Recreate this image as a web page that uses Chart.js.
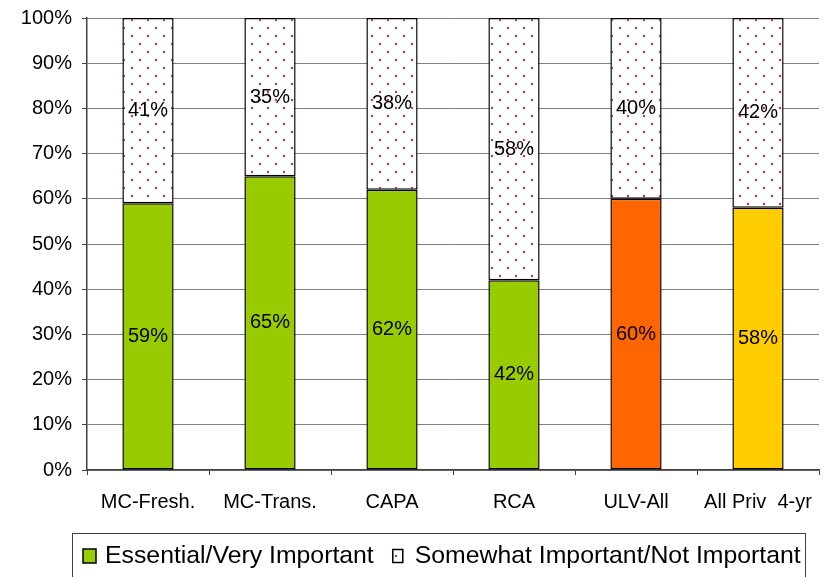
<!DOCTYPE html>
<html>
<head>
<meta charset="utf-8">
<style>
  html, body { margin: 0; padding: 0; background: #ffffff; }
  #wrap { width: 831px; height: 577px; position: relative; }
</style>
<script src="https://cdn.jsdelivr.net/npm/chart.js@4/dist/chart.umd.min.js"></script>
</head>
<body>
<div id="wrap"><canvas id="chart" width="831" height="577"></canvas></div>
<script>
// Survey groups along the x axis
const categories = ['MC-Fresh.', 'MC-Trans.', 'CAPA', 'RCA', 'ULV-All', 'All Priv  4-yr'];
// Share of respondents (percent) for each rating
const essentialVeryImportant = [59, 65, 62, 42, 60, 58];
const somewhatNotImportant = [41, 35, 38, 58, 40, 42];
// Legend texts
const seriesNames = ['Essential/Very Important', 'Somewhat Important/Not Important'];
// Fill per group for the lower segment
const essentialColors = ['#99CC00', '#99CC00', '#99CC00', '#99CC00', '#FF6600', '#FFCC00'];

const FONT = '"Liberation Sans", Arial, sans-serif';

// White tile with small magenta dots in an offset grid
function dotPattern(ctx) {
  const tile = document.createElement('canvas');
  tile.width = 16; tile.height = 16;
  const t = tile.getContext('2d');
  t.fillStyle = '#ffffff';
  t.fillRect(0, 0, 16, 16);
  t.fillStyle = '#a8377a';
  [[4, 4], [12, 12]].forEach(([x, y]) => {
    t.beginPath();
    t.arc(x, y, 1.2, 0, Math.PI * 2);
    t.fill();
  });
  return ctx.createPattern(tile, 'repeat');
}

const canvas = document.getElementById('chart');
const ctx = canvas.getContext('2d');
const pattern = dotPattern(ctx);

// Percent labels centred inside each bar segment
const segmentLabels = {
  id: 'segmentLabels',
  afterDatasetsDraw(chart) {
    const c = chart.ctx;
    c.save();
    c.font = '20px ' + FONT;
    c.fillStyle = '#000000';
    c.textAlign = 'center';
    c.textBaseline = 'middle';
    chart.data.datasets.forEach((ds, i) => {
      chart.getDatasetMeta(i).data.forEach((bar, j) => {
        const y = (bar.y + bar.base) / 2;
        c.fillText(ds.data[j] + '%', bar.x, y);
      });
    });
    c.restore();
  }
};

// Boxed legend under the axis
const boxedLegend = {
  id: 'boxedLegend',
  afterDraw(chart) {
    const c = chart.ctx;
    c.save();
    c.strokeStyle = '#404040';
    c.lineWidth = 1;
    c.strokeRect(72.5, 533.5, 733, 60);
    c.font = '24.8px ' + FONT;
    c.textBaseline = 'middle';
    c.fillStyle = '#000000';
    const swatches = [
      { fill: '#99CC00', w: 13, h: 14 },
      { fill: pattern, w: 10, h: 13 }
    ];
    let x = 83;
    const cy = 556;
    seriesNames.forEach((name, i) => {
      const s = swatches[i];
      c.fillStyle = s.fill;
      c.fillRect(x, cy - s.h / 2, s.w, s.h);
      c.strokeStyle = '#000000';
      c.lineWidth = 1.5;
      c.strokeRect(x, cy - s.h / 2, s.w, s.h);
      c.fillStyle = '#000000';
      c.fillText(name, x + 22, cy);
      x += 22 + c.measureText(name).width + 19;
    });
    c.restore();
  }
};

new Chart(ctx, {
  type: 'bar',
  data: {
    labels: categories,
    datasets: [
      {
        label: seriesNames[0],
        data: essentialVeryImportant,
        backgroundColor: essentialColors,
        borderColor: '#000000',
        borderWidth: 1.5,
        borderSkipped: false
      },
      {
        label: seriesNames[1],
        data: somewhatNotImportant,
        backgroundColor: pattern,
        borderColor: '#000000',
        borderWidth: 1.5,
        borderSkipped: false
      }
    ]
  },
  options: {
    responsive: false,
    animation: false,
    events: [],
    layout: { padding: { left: 0, right: 12, top: 18, bottom: 57 } },
    datasets: { bar: { categoryPercentage: 1, barPercentage: 0.42 } },
    plugins: {
      legend: { display: false },
      tooltip: { enabled: false }
    },
    scales: {
      x: {
        stacked: true,
        afterFit(scale) { scale.height = 50; },
        grid: {
          drawOnChartArea: false,
          tickLength: 5,
          tickColor: '#404040',
          lineWidth: 1
        },
        border: { color: '#404040', width: 1.5 },
        ticks: {
          color: '#000000',
          font: { family: FONT, size: 20 },
          padding: 15,
          maxRotation: 0,
          autoSkip: false
        }
      },
      y: {
        stacked: true,
        min: 0,
        max: 100,
        afterFit(scale) { scale.width = 87; scale.paddingTop = 0; scale.paddingBottom = 0; },
        grid: {
          color: '#808080',
          lineWidth: 1,
          tickLength: 5,
          tickColor: '#404040'
        },
        border: { color: '#404040', width: 1.5 },
        ticks: {
          stepSize: 10,
          color: '#000000',
          font: { family: FONT, size: 20, lineHeight: 1 },
          padding: 10,
          callback: (v) => v + '%'
        }
      }
    }
  },
  plugins: [segmentLabels, boxedLegend]
});
</script>
</body>
</html>
